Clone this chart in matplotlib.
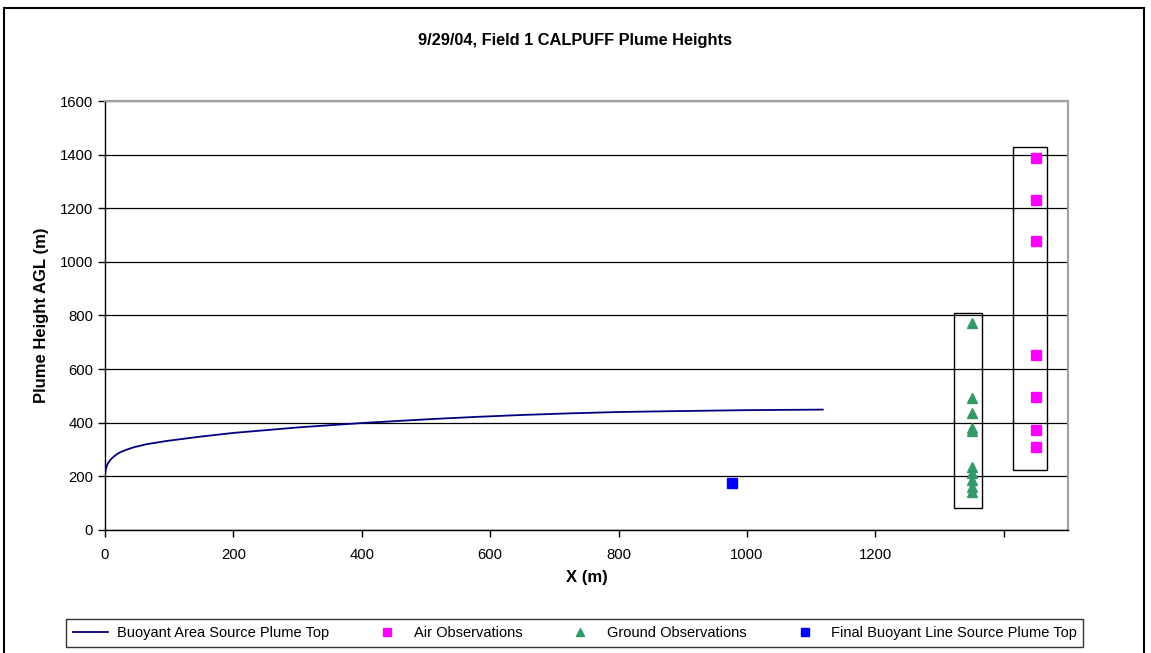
import matplotlib.pyplot as plt
from matplotlib.patches import Rectangle

plt.rcParams['font.family'] = ['Liberation Sans', 'DejaVu Sans']

# buoyant area source plume top
plume_x = [0, 0.5, 1.5, 3, 5, 8, 12, 17, 23, 32, 44, 65, 96, 148, 200, 303, 407, 511, 580, 650, 724, 800, 879, 1000, 1118]
plume_y = [200, 215, 228, 240, 250, 260, 270, 280, 289, 298, 308, 320, 332, 348, 362, 383, 400, 414, 422, 429, 435, 440, 443, 447, 449]

air_x = [1450, 1450, 1450, 1450, 1450, 1450, 1450]
air_y = [1386, 1232, 1079, 651, 496, 374, 311]

ground_x = [1350] * 10
ground_y = [773, 493, 437, 379, 369, 236, 213, 187, 162, 143]

line_src_x = [976]
line_src_y = [175]

x_ticks = [0, 200, 400, 600, 800, 1000, 1200, 1400]
x_labels = ['0', '200', '400', '600', '800', '1000', '1200', '']
y_ticks = [0, 200, 400, 600, 800, 1000, 1200, 1400, 1600]

fig = plt.figure(figsize=(11.51, 6.53), dpi=100)
ax = fig.add_axes([0.0912, 0.1884, 0.8367, 0.6569])

ax.plot(plume_x, plume_y, color='#000080', lw=1.3, label='Buoyant Area Source Plume Top', zorder=3)
ax.plot(air_x, air_y, ls='none', marker='s', ms=6.5, color='#FF00FF', label='Air Observations', zorder=4)
ax.plot(ground_x, ground_y, ls='none', marker='^', ms=7.5, color='#339966', label='Ground Observations', zorder=4)
ax.plot(line_src_x, line_src_y, ls='none', marker='s', ms=6.5, color='#0000FF',
        label='Final Buoyant Line Source Plume Top', zorder=4)

# boxes around the observation groups
ax.add_patch(Rectangle((1322, 81), 44, 729, fill=False, ec='black', lw=1, zorder=5))
ax.add_patch(Rectangle((1414, 222), 53, 1205, fill=False, ec='black', lw=1, zorder=5))

ax.set_xlim(0, 1500)
ax.set_ylim(0, 1600)
ax.set_xticks(x_ticks)
ax.set_xticklabels(x_labels)
ax.set_yticks(y_ticks)
ax.tick_params(direction='out', length=5, width=1, labelsize=10.7, color='black')
ax.tick_params(axis='x', pad=8)
ax.grid(axis='y', color='black', lw=0.9)
ax.set_axisbelow(True)

for side in ['top', 'right']:
    ax.spines[side].set_color('#a0a0a0')
    ax.spines[side].set_linewidth(1.5)
for side in ['left', 'bottom']:
    ax.spines[side].set_color('black')
    ax.spines[side].set_linewidth(1)

ax.set_xlabel('X (m)', fontsize=12, fontweight='bold', labelpad=6)
ax.set_ylabel('Plume Height AGL (m)', fontsize=12, fontweight='bold', labelpad=8)
fig.text(0.5, 0.9387, '9/29/04, Field 1 CALPUFF Plume Heights', ha='center', va='center',
         fontsize=11.8, fontweight='bold')

leg = fig.legend(loc='center', bbox_to_anchor=(0.4995, 0.0306), ncol=4, frameon=True, fancybox=False,
                 edgecolor='black', handlelength=2.4, columnspacing=2.8, handletextpad=0.6,
                 borderpad=0.45, prop={'family': ['Liberation Sans Narrow', 'Liberation Sans'], 'size': 10.5})
leg.get_frame().set_linewidth(1)
for h in leg.legend_handles[1:]:
    h.set_markersize(6)

# outer chart border
fig.add_artist(Rectangle((4 / 1151, -0.01), 1140 / 1151, 1.0 - 8 / 653 + 0.01, transform=fig.transFigure,
                         fill=False, ec='black', lw=1.5))

fig.savefig('out.png', dpi=100)
plt.close()
